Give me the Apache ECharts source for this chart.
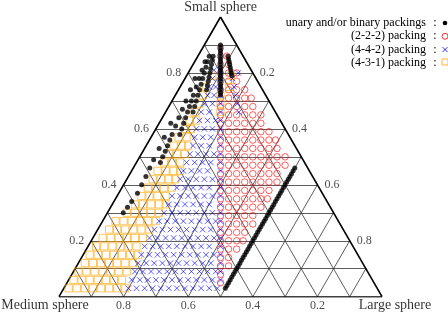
<!DOCTYPE html>
<html><head><meta charset="utf-8">
<script src="https://cdn.jsdelivr.net/npm/echarts@6/dist/echarts.min.js"></script>
<style>html,body{margin:0;padding:0;background:#fff}#c{width:448px;height:314px}</style>
</head><body><div id="c"></div>
<script>
// Axis titles and tick labels
const axisTitles = ['Small sphere', 'Medium sphere', 'Large sphere'];
const tickValues = [0.2, 0.4, 0.6, 0.8];
const gridSteps = [0.1, 0.2, 0.3, 0.4, 0.5, 0.6, 0.7, 0.8, 0.9];
const legendNames = ['unary and/or binary packings', '(2-2-2) packing', '(4-4-2) packing', '(4-3-1) packing'];

// Data in percent. rows: [small, [large, large, ...]]  (medium = 100 - small - large)
const binaryRows = [
 [3,[50]],[4,[50]],[5,[50]],[6,[50]],[7,[50]],[8,[50]],[9,[50]],[10,[50]],[11,[50]],[12,[50]],[13,[50]],[14,[50]],[15,[50]],
 [16,[50]],[17,[50]],[18,[50]],[19,[50]],[20,[50]],[21,[50]],[22,[50]],[23,[50]],[24,[50]],[25,[50]],[26,[50]],[27,[50]],
 [28,[50]],[29,[50]],[30,[50]],[31,[50]],[32,[50]],[33,[50]],[34,[50]],[35,[50]],[36,[50]],[37,[50]],[38,[50]],[39,[50]],
 [40,[50]],[41,[50]],[42,[50]],[43,[50]],[44,[50]],[45,[50]],[46,[50]],
 [30,[4.9]],[32,[5.2]],[34,[5.5]],[37,[5.8]],[40,[5.6]],[43,[5.4]],[46,[5.1]],[49,[4.8]],[53,[4.5]],[57,[4.1]],[62,[3.6]],
 [48,[7.4]],[50,[7.1]],[52,[6.9]],[54,[6.6]],[56,[6.3]],[58,[6]],[61,[5.6]],[64,[5.1]],[67,[4.7]],[70,[4.3]],[74,[3.7]],[78,[3.1]],
 [58,[8.4]],[60,[8]],[62,[7.6]],[64,[7.2]],[66,[6.8]],[68,[6.4]],[70,[6]],[72,[5.6]],[75,[5]],[78,[4.4]],[81,[3.8]],[84,[3.2]],
 [66,[8.5]],[68,[8]],[70,[7.5]],[72,[7]],[74,[6.5]],[76,[6]],[78,[5.5]],[80,[5]],[82,[4.5]],[84,[4]],[86,[3.5]],
 [74,[8.7]],[75.5,[8.2]],[77,[7.7]],[78.5,[7.2]],[80,[6.7]],[81.5,[6.2]],[83,[5.7]],[84.5,[5.2]],[86,[4.7]],
 [72,[14]],[73,[13.5]],[74,[13]],[75,[12.5]],[76,[12]],[77,[11.5]],[78,[11]],[79,[10.5]],[80,[10]],[81,[9.5]],[82,[9]],
 [83,[8.5]],[84,[8]],[85,[7.5]],[86,[7]],[87,[6.5]],[88,[6]],[89,[5.5]],[90,[5]],
 [79,[14]],[80,[13.3]],[81,[12.7]],[82,[12]],[83,[11.3]],[84,[10.7]],[85,[10]],[86,[9.3]]
];
const p222Rows = [
 [89,[5.5]],[86,[7,9]],[83,[8.5,11]],[80,[10,12.5,15]],[77,[11.5,14,16.5]],[74,[13,15.5,18,20.5]],
 [71,[14.5,17,19.5,22,24]],[68,[16,18.5,21,23.5,26]],[65,[17.5,20,22.5,25,27.5,30]],[62,[19,21.5,24,26.5,29,31.5]],
 [59,[20.5,23,25.5,28,30.5,33,35.5]],[56,[22,24.5,27,29.5,32,34.5,37,39]],[53,[23.5,26,28.5,31,33.5,36,38.5,41]],
 [50,[25,27.5,30,32.5,35,37.5,40,42.5,45]],[47,[26.5,29,31.5,34,36.5,39,41.5,44,46.5]],[44,[28,30.5,33,35.5,38,40.5,43,45.5]],
 [41,[29.5,32,34.5,37,39.5,42,44.5,47]],[38,[31,33.5,36,38.5,41,43.5,46]],[35,[32.5,35,37.5,40,42.5,45,47]],
 [32,[34,36.5,39,41.5,44,46.5]],[29,[35.5,38,40.5,43,45.5]],[26,[37,39.5,42,44.5,47]],[23,[38.5,41,43.5,46]],
 [20,[40,42.5,45,47]],[17,[41.5,44,46.5]],[14,[43,45.5]],[11,[44.5,47]],[8,[46]],[5,[47.5]]
];
const p442Rows = [
 [3,[20,22.5,25,27.5,30,32.5,35,37.5,40,42.5,45,47.5]],[6,[19.5,22,24.5,27,29.5,32,34.5,37,39.5,42,44.5,47]],
 [9,[19,21.5,24,26.5,29,31.5,34,36.5,39,41.5,44,45.5]],[12,[18.5,21,23.5,26,28.5,31,33.5,36,38.5,41,44]],
 [15,[18,20.5,23,25.5,28,30.5,33,35.5,38,40.5,42.5]],[18,[17.5,20,22.5,25,27.5,30,32.5,35,37.5,41]],
 [21,[17.5,20,22.5,25,27.5,30,32.5,35,37.5,39.5]],[24,[17.5,20,22.5,25,27.5,30,32.5,35,38]],
 [27,[17.5,20,22.5,25,27.5,30,32.5,35,36.5]],[30,[17.5,20,22.5,25,27.5,30,32.5,35]],
 [33,[17.5,20,22.5,25,27.5,30,33.5]],[36,[17,19.5,22,24.5,27,29.5,32]],[39,[17,19.5,22,24.5,27,30.5]],
 [42,[16.5,19,21.5,24,26.5,29]],[45,[16,18.5,21,23.5,27.5]],[48,[15.5,18,20.5,23,26]],[51,[15,17.5,20,22.5,24.5]],
 [54,[14.5,17,19.5,23]],[57,[13.5,16,18.5,21.5]],[60,[12.5,15,17.5,20]],[63,[12,14.5,17,18.5]],[66,[11,13.5,17]],
 [69,[10.5,13,15.5]],[72,[10,12,14]],[75,[9,11,12.5]],[78,[8.5,11]],[81,[7.5,9.5]],
 [66,[22.7]],[69,[20.7]],[72,[18.7]],[75,[16.7]],[78,[14.7]],[80,[15.5]]
];
const p431Rows = [
 [3,[1.5,4,6.5,9,11.5,14,16.5,19]],[6,[1.5,4,6.5,9,11.5,14,16.5]],[9,[1.5,4,6.5,9,11.5,14,16.5]],
 [12,[2,4.5,7,9.5,12,14.5,17]],[15,[2,4.5,7,9.5,12,14.5,17]],[18,[2.5,5,7.5,10,12.5,15]],[21,[3,5.5,8,10.5,13,15.5]],
 [24,[3.5,6,8.5,11,13.5,16]],[27,[4,6.5,9,11.5,14,16.5]],[30,[6,8.5,11,13.5,16]],[33,[7,9.5,12,14.5,16.5]],
 [36,[7.5,10,12.5,15]],[39,[8,10.5,13,15.5]],[42,[8,10.5,13,15]],[45,[8,10.5,13,15]],[48,[8.5,11,13.5]],
 [51,[8.5,11,13.5]],[54,[8.5,11,13]],[57,[8.5,11]],[60,[9,11]],[63,[9,11]],[66,[9,17]],[69,[9,15.5]],[72,[8.5,14]],[75,[8,15.3]],[79,[8,13.7]]
];

const H = Math.sqrt(3) / 2;
function xy(S, L) { return [(L + S / 2) / 100, S * H / 100]; }
function rowsToPts(rows) { const out = []; rows.forEach(r => r[1].forEach(L => out.push(xy(r[0], L)))); return out; }

// ternary grid lines
const gridLines = [];
gridSteps.forEach(k => {
  const p = k * 100;
  gridLines.push({coords: [xy(p, 0), xy(p, 100 - p)]});
  gridLines.push({coords: [xy(0, p), xy(100 - p, p)]});
  gridLines.push({coords: [xy(0, 100 - p), xy(100 - p, 0)]});
});
const border = [{coords: [xy(0, 0), xy(0, 100)]}, {coords: [xy(0, 100), xy(100, 0)]}, {coords: [xy(100, 0), xy(0, 0)]}];

const serif = 'Liberation Serif';
const tickLabelStyle = {show: true, fontFamily: serif, fontSize: 12, color: '#222', formatter: p => p.data.t};
const leftTicks = tickValues.map(v => ({value: xy(v * 100, 0), t: String(v)}));
const rightTicks = tickValues.map(v => ({value: xy(100 - v * 100, v * 100), t: String(v)}));
const bottomTicks = tickValues.map(v => ({value: xy(0, 100 - v * 100), t: String(v)}));

const chart = echarts.init(document.getElementById('c'));
chart.setOption({
  animation: false,
  grid: {left: 59, top: 17, width: 323, height: 279.7},
  xAxis: {type: 'value', min: 0, max: 1, show: false},
  yAxis: {type: 'value', min: 0, max: H, show: false},
  series: [
    {type: 'lines', coordinateSystem: 'cartesian2d', silent: true, data: gridLines, lineStyle: {color: '#333', width: 0.8, opacity: 1}, z: 1},
    {type: 'lines', coordinateSystem: 'cartesian2d', silent: true, data: border, lineStyle: {color: '#000', width: 1.6, opacity: 1}, z: 2},
    {type: 'scatter', name: legendNames[1], data: rowsToPts(p222Rows), symbol: 'circle', symbolSize: 6.5,
     itemStyle: {color: 'rgba(0,0,0,0)', borderColor: '#ff0000', borderWidth: 0.8}, z: 3},
    {type: 'scatter', name: legendNames[3], data: rowsToPts(p431Rows), symbol: 'rect', symbolSize: 7.2,
     itemStyle: {color: 'rgba(0,0,0,0)', borderColor: '#ffa500', borderWidth: 0.8}, z: 4},
    {type: 'scatter', name: legendNames[2], data: rowsToPts(p442Rows), symbol: 'path://M0,0L10,10M10,0L0,10', symbolSize: 5.5,
     itemStyle: {color: 'rgba(0,0,0,0)', borderColor: '#0000ff', borderWidth: 0.8}, z: 5},
    {type: 'scatter', name: legendNames[0], data: rowsToPts(binaryRows), symbol: 'circle', symbolSize: 5,
     itemStyle: {color: '#000'}, z: 6},
    {type: 'scatter', silent: true, symbolSize: 0, data: leftTicks, label: Object.assign({position: 'left', distance: 7}, tickLabelStyle), z: 7},
    {type: 'scatter', silent: true, symbolSize: 0, data: rightTicks, label: Object.assign({position: 'right', distance: 7}, tickLabelStyle), z: 7},
    {type: 'scatter', silent: true, symbolSize: 0, data: bottomTicks, label: Object.assign({position: 'bottom', distance: 3}, tickLabelStyle), z: 7},
    {type: 'scatter', silent: true, symbolSize: 0, z: 7,
     data: [
       {value: xy(100, 0), t: axisTitles[0], label: {position: 'top', distance: 3}},
       {value: xy(0, 0), t: axisTitles[1], label: {position: 'bottom', distance: 2, offset: [-14, 0]}},
       {value: xy(0, 100), t: axisTitles[2], label: {position: 'bottom', distance: 2, offset: [13, 0]}}
     ],
     label: {show: true, fontFamily: serif, fontSize: 14, color: '#000', formatter: p => p.data.t}}
  ],
  graphic: [
    ...legendNames.map((n, i) => ({type: 'text', x: 426, y: 23 + i * 13.3, style: {text: n, font: '12px "Liberation Serif"', fill: '#000', textAlign: 'right', textVerticalAlign: 'middle'}})),
    ...legendNames.map((n, i) => ({type: 'text', x: 435, y: 23 + i * 13.3, style: {text: ':', font: '12px "Liberation Serif"', fill: '#000', textAlign: 'center', textVerticalAlign: 'middle'}})),
    {type: 'circle', shape: {cx: 445, cy: 23, r: 2.3}, style: {fill: '#000'}},
    {type: 'circle', shape: {cx: 445, cy: 36.3, r: 3}, style: {fill: 'none', stroke: '#ff0000', lineWidth: 0.8}},
    {type: 'polyline', shape: {points: [[442.5, 47.1], [447.5, 52.1]]}, style: {stroke: '#0000ff', lineWidth: 0.8}},
    {type: 'polyline', shape: {points: [[447.5, 47.1], [442.5, 52.1]]}, style: {stroke: '#0000ff', lineWidth: 0.8}},
    {type: 'rect', shape: {x: 442, y: 59, width: 6, height: 6}, style: {fill: 'none', stroke: '#ffa500', lineWidth: 0.8}}
  ]
});
</script>
</body></html>
